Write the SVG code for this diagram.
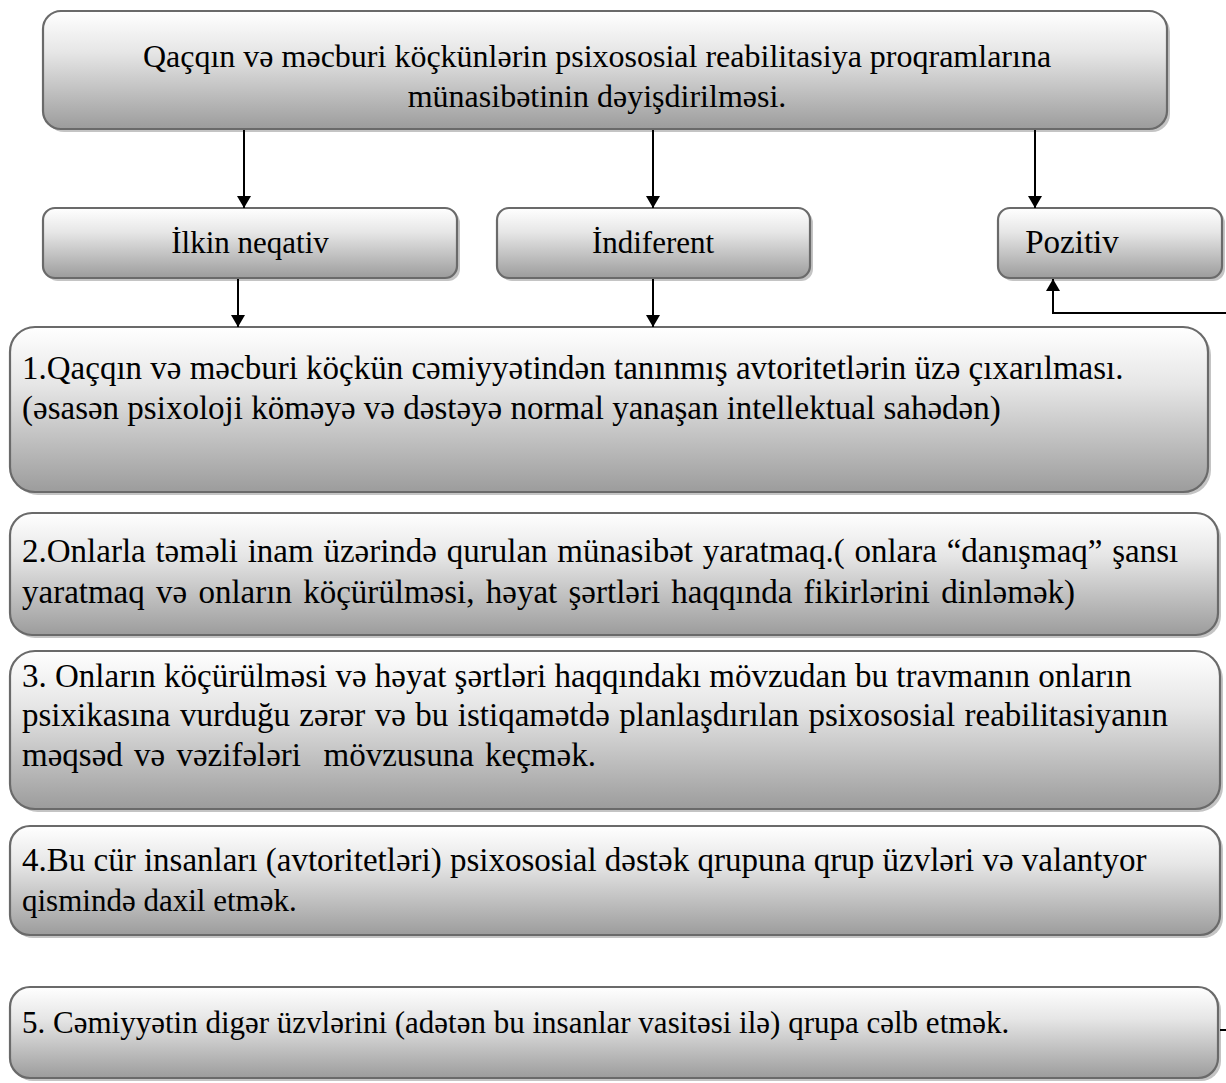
<svg xmlns="http://www.w3.org/2000/svg" width="1226" height="1083" viewBox="0 0 1226 1083">
<defs>
<linearGradient id="g" x1="0" y1="0" x2="0" y2="1">
<stop offset="0" stop-color="#ffffff"/>
<stop offset="0.35" stop-color="#e6e6e6"/>
<stop offset="1" stop-color="#9c9c9c"/>
</linearGradient>
<marker id="ah" viewBox="0 0 12 14" refX="12" refY="7" markerWidth="12" markerHeight="14" markerUnits="userSpaceOnUse" orient="auto">
<path d="M0,0 L12,7 L0,14 Z" fill="#000"/>
</marker>
</defs>
<style>
.box{fill:url(#g);stroke:#6a6a6a;stroke-width:2.2}
.sh{fill:#c4c4c4}
text{font-family:'Liberation Serif','Times New Roman',serif;font-size:33px;fill:#000;white-space:pre}
.tt{font-size:32px}
.lb{font-size:31px}
.c{stroke:#000;stroke-width:2;fill:none}
</style>
<rect width="1226" height="1083" fill="#fff"/>

<g id="top">
<rect class="sh" x="46" y="14" width="1124" height="118" rx="18"/>
<rect class="box" x="43" y="11" width="1124" height="118" rx="18"/>
<text class="tt" x="597" y="67" text-anchor="middle">Qaçqın və məcburi köçkünlərin psixososial reabilitasiya proqramlarına</text>
<text class="tt" x="597" y="107" text-anchor="middle">münasibətinin dəyişdirilməsi.</text>
</g>

<g id="neg">
<rect class="sh" x="46" y="211" width="414" height="70" rx="12"/>
<rect class="box" x="43" y="208" width="414" height="70" rx="12"/>
<text class="lb" x="250" y="253" text-anchor="middle">İlkin neqativ</text>
</g>
<g id="ind">
<rect class="sh" x="500" y="211" width="313" height="70" rx="12"/>
<rect class="box" x="497" y="208" width="313" height="70" rx="12"/>
<text class="lb" x="653" y="253" text-anchor="middle">İndiferent</text>
</g>
<g id="poz">
<rect class="sh" x="1001" y="211" width="224" height="70" rx="12"/>
<rect class="box" x="998" y="208" width="224" height="70" rx="12"/>
<text x="1072" y="253" text-anchor="middle">Pozitiv</text>
</g>

<g id="s1">
<rect class="sh" x="13" y="330" width="1198" height="165" rx="25"/>
<rect class="box" x="10" y="327" width="1198" height="165" rx="25"/>
<text x="22" y="379">1.Qaçqın və məcburi köçkün cəmiyyətindən tanınmış avtoritetlərin üzə çıxarılması.</text>
<text x="22" y="419">(əsasən psixoloji köməyə və dəstəyə normal yanaşan intellektual sahədən)</text>
</g>
<g id="s2">
<rect class="sh" x="13" y="516" width="1208" height="122" rx="22"/>
<rect class="box" x="10" y="513" width="1208" height="122" rx="22"/>
<text x="22" y="562" word-spacing="1.5">2.Onlarla təməli inam üzərində qurulan münasibət yaratmaq.( onlara “danışmaq” şansı</text>
<text x="22" y="603" word-spacing="3">yaratmaq və onların köçürülməsi, həyat şərtləri haqqında fikirlərini dinləmək)</text>
</g>
<g id="s3">
<rect class="sh" x="13" y="654" width="1210" height="158" rx="25"/>
<rect class="box" x="10" y="651" width="1210" height="158" rx="25"/>
<text x="22" y="687">3. Onların köçürülməsi və həyat şərtləri haqqındakı mövzudan bu travmanın onların</text>
<text x="22" y="726" word-spacing="1.2">psixikasına vurduğu zərər və bu istiqamətdə planlaşdırılan psixososial reabilitasiyanın</text>
<text x="22" y="766" word-spacing="3">məqsəd və vəzifələri  mövzusuna keçmək.</text>
</g>
<g id="s4">
<rect class="sh" x="13" y="829" width="1210" height="109" rx="20"/>
<rect class="box" x="10" y="826" width="1210" height="109" rx="20"/>
<text x="22" y="871">4.Bu cür insanları (avtoritetləri) psixososial dəstək qrupuna qrup üzvləri və valantyor</text>
<text class="lb" x="22" y="911">qismində daxil etmək.</text>
</g>
<g id="s5">
<rect class="sh" x="13" y="990" width="1208" height="91" rx="20"/>
<rect class="box" x="10" y="987" width="1208" height="91" rx="20"/>
<text class="lb" x="22" y="1033">5. Cəmiyyətin digər üzvlərini (adətən bu insanlar vasitəsi ilə) qrupa cəlb etmək.</text>
</g>

<g id="connectors">
<line class="c" x1="244" y1="130" x2="244" y2="208" marker-end="url(#ah)"/>
<line class="c" x1="653" y1="130" x2="653" y2="208" marker-end="url(#ah)"/>
<line class="c" x1="1035" y1="130" x2="1035" y2="208" marker-end="url(#ah)"/>
<line class="c" x1="238" y1="279" x2="238" y2="327" marker-end="url(#ah)"/>
<line class="c" x1="653" y1="279" x2="653" y2="327" marker-end="url(#ah)"/>
<polyline class="c" points="1226,313 1053,313 1053,279" marker-end="url(#ah)"/>
<line class="c" x1="1220" y1="1030" x2="1226" y2="1030"/>
</g>
</svg>
